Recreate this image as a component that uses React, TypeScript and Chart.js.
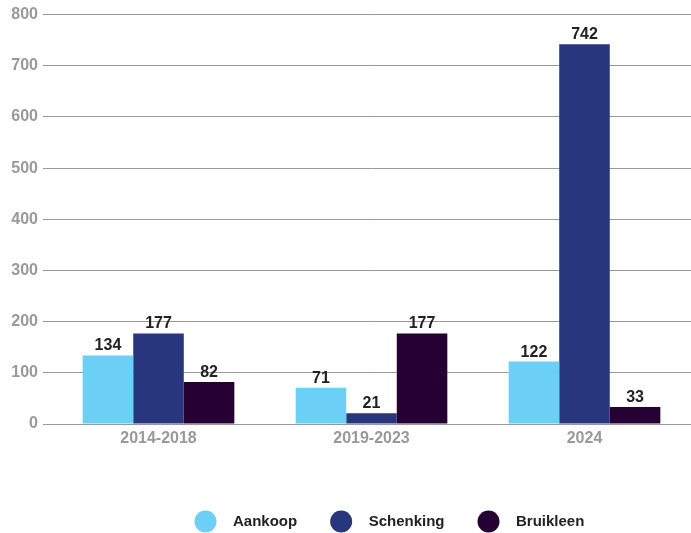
import React, { useEffect, useRef } from "react";
import { Chart, registerables } from "chart.js";

Chart.register(...registerables);

const categories = ["2014-2018", "2019-2023", "2024"];
const seriesNames = ["Aankoop", "Schenking", "Bruikleen"];
const aankoop = [134, 71, 122];
const schenking = [177, 21, 742];
const bruikleen = [82, 177, 33];
const yTicks = [0, 100, 200, 300, 400, 500, 600, 700, 800];

const colors = ["#6bcff6", "#27367d", "#260033"];
const FONT = "'Liberation Sans', Arial, Helvetica, sans-serif";

const valueLabels = {
  id: "valueLabels",
  afterDatasetsDraw(chart: any) {
    const ctx = chart.ctx;
    ctx.save();
    ctx.font = `bold 16px ${FONT}`;
    ctx.fillStyle = "#222222";
    ctx.textAlign = "center";
    ctx.textBaseline = "alphabetic";
    chart.data.datasets.forEach((ds: any, i: number) => {
      const meta = chart.getDatasetMeta(i);
      meta.data.forEach((bar: any, j: number) => {
        ctx.fillText(String(ds.data[j]), bar.x, bar.y - 5);
      });
    });
    ctx.restore();
  },
};

const customLegend = {
  id: "customLegend",
  afterDraw(chart: any) {
    const ctx = chart.ctx;
    ctx.save();
    ctx.font = `bold 15px ${FONT}`;
    ctx.textBaseline = "middle";
    ctx.textAlign = "left";
    const cy = 521.5;
    let x = 194.5;
    chart.data.datasets.forEach((ds: any) => {
      const r = 11;
      ctx.fillStyle = ds.backgroundColor;
      ctx.beginPath();
      ctx.arc(x + r, cy, r, 0, Math.PI * 2);
      ctx.fill();
      const tx = x + 2 * r + 16.5;
      ctx.fillStyle = "#222222";
      ctx.fillText(ds.label, tx, cy);
      x = tx + ctx.measureText(ds.label).width + 33;
    });
    ctx.restore();
  },
};

export default function App() {
  const ref = useRef<HTMLCanvasElement | null>(null);
  useEffect(() => {
    document.body.style.margin = "0";
    const values = [aankoop, schenking, bruikleen];
    const chart = new Chart(ref.current as HTMLCanvasElement, {
      type: "bar",
      data: {
        labels: categories,
        datasets: seriesNames.map((name, i) => ({
          label: name,
          data: values[i],
          backgroundColor: colors[i],
          borderWidth: 0,
          categoryPercentage: 0.712,
          barPercentage: 1,
        })),
      },
      options: {
        responsive: false,
        animation: false,
        devicePixelRatio: 1,
        layout: { padding: { top: 14, right: 0, bottom: 0, left: 0 } },
        plugins: {
          legend: { display: false },
          tooltip: { enabled: false },
        },
        scales: {
          x: {
            grid: { display: false, drawTicks: false },
            border: { display: false },
            ticks: {
              color: "#999999",
              font: { family: FONT, size: 16, weight: "bold" },
              padding: 5,
            },
            afterFit(scale: any) {
              scale.height = 109;
            },
          },
          y: {
            min: 0,
            max: 800,
            afterBuildTicks(scale: any) {
              scale.ticks = yTicks.map((v) => ({ value: v }));
            },
            grid: {
              color: "#999999",
              lineWidth: 1,
              drawTicks: true,
              tickLength: 9,
            },
            border: { display: false },
            ticks: {
              color: "#999999",
              font: { family: FONT, size: 16, weight: "bold" },
              padding: 5,
            },
            afterFit(scale: any) {
              scale.width = 52;
            },
          },
        },
      },
      plugins: [valueLabels, customLegend],
    });
    return () => chart.destroy();
  }, []);
  return (
    <div style={{ width: 691, height: 533 }}>
      <canvas ref={ref} width={691} height={533} style={{ display: "block" }} />
    </div>
  );
}
